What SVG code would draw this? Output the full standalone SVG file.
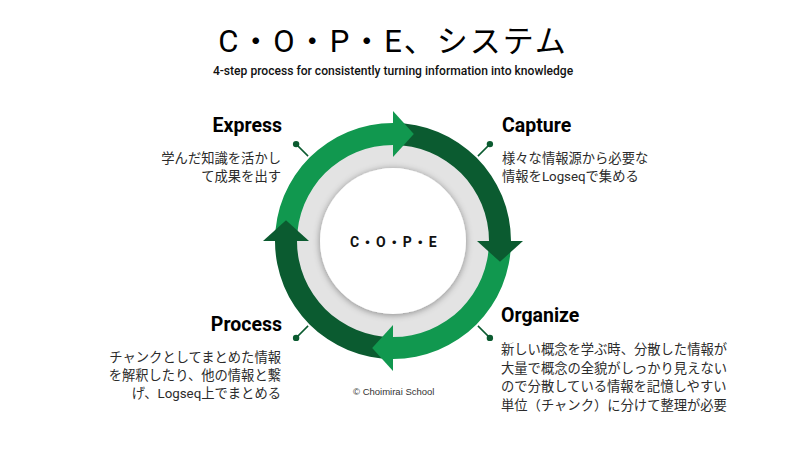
<svg xmlns="http://www.w3.org/2000/svg" width="800" height="450" viewBox="0 0 800 450">
<defs>
<style>
.lt{fill:#11984f}
.dk{fill:#0b5b30}
.ttl{font-family:Roboto,"Noto Sans CJK JP",sans-serif;font-size:31px;font-weight:400;fill:#000;letter-spacing:2px}
.sub{font-family:Roboto,"Noto Sans CJK JP",sans-serif;font-size:12.1px;font-weight:500;fill:#111}
.hd{font-family:Roboto,"Noto Sans CJK JP",sans-serif;font-size:19.5px;font-weight:700;fill:#000}
.ds{font-family:Roboto,"Noto Sans CJK JP",sans-serif;font-size:13.3px;font-weight:400;fill:#2b2b2b}
.ctr{font-family:Roboto,"Noto Sans CJK JP",sans-serif;font-size:14px;font-weight:700;fill:#111;letter-spacing:1.5px}
.cp{font-family:"Liberation Sans",Arial,sans-serif;font-size:9.5px;fill:#333}
.ln{stroke:#0b5b30;stroke-width:1.5;fill:none}
.dt{fill:#0b5b30}
</style>
<filter id="sh" x="-30%" y="-30%" width="160%" height="160%">
<feDropShadow dx="0" dy="1" stdDeviation="3.5" flood-color="#000" flood-opacity="0.4"/>
</filter>
</defs>
<rect width="800" height="450" fill="#fff"/>
<g id="title">
<text class="ttl" x="393" y="52" text-anchor="middle">C・O・P・E、システム</text>
<text class="sub" x="393" y="75" text-anchor="middle">4-step process for consistently turning information into knowledge</text>
</g>
<g id="cycle">
<circle cx="393" cy="241" r="97" fill="#e3e3e3"/>
<circle cx="393" cy="241" r="73" fill="#fff" filter="url(#sh)"/>
<path class="lt" d="M275,241 A118,118 0 0 1 393,123 L393,145 A96,96 0 0 0 297,241 Z"/>
<path class="dk" d="M393,123 A118,118 0 0 1 511,241 L489,241 A96,96 0 0 0 393,145 Z"/>
<path class="lt" d="M511,241 A118,118 0 0 1 393,359 L393,337 A96,96 0 0 0 489,241 Z"/>
<path class="dk" d="M393,359 A118,118 0 0 1 275,241 L297,241 A96,96 0 0 0 393,337 Z"/>
<path class="lt" d="M393,111 L393,157 L413.8,134 Z"/>
<path class="dk" d="M477,241 L523,241 L500,261.8 Z"/>
<path class="lt" d="M393,325 L393,371 L372.2,348 Z"/>
<path class="dk" d="M309,241 L263,241 L286,220.2 Z"/>
<text class="ctr" x="394" y="247" text-anchor="middle">C・O・P・E</text>
</g>
<g id="connectors">
<line class="ln" x1="308.1" y1="156.1" x2="296.1" y2="144.1"/>
<line class="ln" x1="477.9" y1="156.1" x2="489.9" y2="144.1"/>
<line class="ln" x1="477.9" y1="325.9" x2="489.9" y2="337.9"/>
<line class="ln" x1="308.1" y1="325.9" x2="296.1" y2="337.9"/>
<circle class="dt" cx="296.1" cy="144.1" r="3.2"/>
<circle class="dt" cx="489.9" cy="144.1" r="3.2"/>
<circle class="dt" cx="489.9" cy="337.9" r="3.2"/>
<circle class="dt" cx="296.1" cy="337.9" r="3.2"/>
</g>
<g id="express">
<text class="hd" x="282" y="132" text-anchor="end">Express</text>
<text class="ds" x="281" y="163" text-anchor="end">学んだ知識を活かし</text>
<text class="ds" x="281" y="181" text-anchor="end">て成果を出す</text>
</g>
<g id="capture">
<text class="hd" x="502" y="132">Capture</text>
<text class="ds" x="502" y="163">様々な情報源から必要な</text>
<text class="ds" x="502" y="181">情報をLogseqで集める</text>
</g>
<g id="organize">
<text class="hd" x="501" y="322">Organize</text>
<text class="ds" x="501" y="354">新しい概念を学ぶ時、分散した情報が</text>
<text class="ds" x="501" y="372.5">大量で概念の全貌がしっかり見えない</text>
<text class="ds" x="501" y="391">ので分散している情報を記憶しやすい</text>
<text class="ds" x="501" y="409.5">単位（チャンク）に分けて整理が必要</text>
</g>
<g id="process">
<text class="hd" x="282" y="331" text-anchor="end">Process</text>
<text class="ds" x="281" y="362" text-anchor="end">チャンクとしてまとめた情報</text>
<text class="ds" x="281" y="380" text-anchor="end">を解釈したり、他の情報と繋</text>
<text class="ds" x="281" y="398" text-anchor="end">げ、Logseq上でまとめる</text>
</g>
<text class="cp" x="353" y="395">© Choimirai School</text>
</svg>
